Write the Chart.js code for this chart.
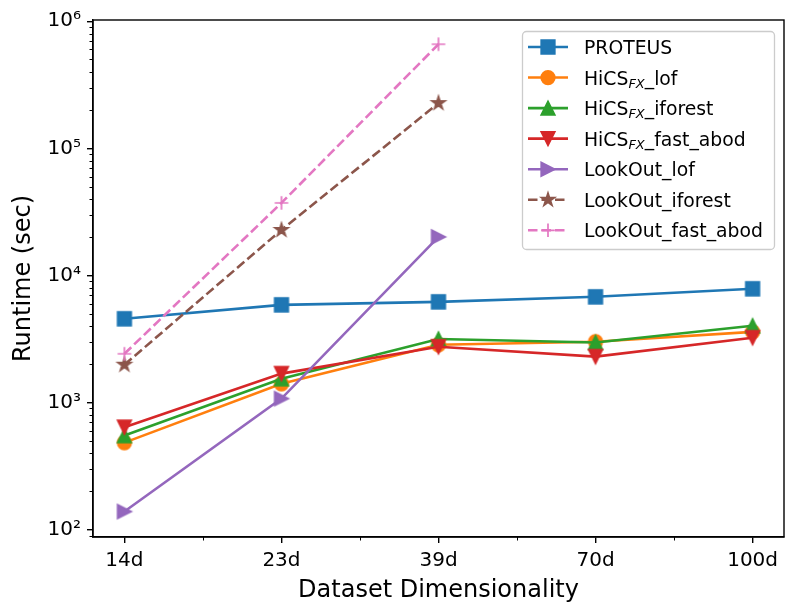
<!DOCTYPE html>
<html><head><meta charset="utf-8">
<script src="https://cdn.jsdelivr.net/npm/chart.js@4/dist/chart.umd.min.js"></script>
<style>html,body{margin:0;padding:0;background:#fff;}canvas{display:block;}</style>
</head><body>
<canvas id="c" width="785" height="603"></canvas>
<script>
// ---- data ----
const categories = ['14d', '23d', '39d', '70d', '100d'];
const seriesLabels = ['PROTEUS', 'HiCS_{FX}_lof', 'HiCS_{FX}_iforest', 'HiCS_{FX}_fast_abod', 'LookOut_lof', 'LookOut_iforest', 'LookOut_fast_abod'];
const proteus = [4560, 5870, 6200, 6790, 7850];
const hicsLof = [484, 1406, 2850, 3010, 3600];
const hicsIforest = [550, 1540, 3160, 2970, 4020];
const hicsFastAbod = [640, 1690, 2750, 2300, 3240];
const lookoutLof = [139, 1075, 20100, null, null];
const lookoutIforest = [1985, 22800, 227000, null, null];
const lookoutFastAbod = [2420, 37200, 659000, null, null];
const yTickValues = [100, 1000, 10000, 100000, 1000000];
const yTickLabels = ['10\u00B2', '10\u00B3', '10\u2074', '10\u2075', '10\u2076'];
const xTitle = 'Dataset Dimensionality';
const yTitle = 'Runtime (sec)';

// ---- styles ----
const FONT = "'DejaVu Sans', sans-serif";
const seriesValues = [proteus, hicsLof, hicsIforest, hicsFastAbod, lookoutLof, lookoutIforest, lookoutFastAbod];
const colors = ['#1f77b4', '#ff7f0e', '#2ca02c', '#d62728', '#9467bd', '#8c564b', '#e377c2'];
const markers = ['s', 'o', '^', 'v', '>', '*', '+'];
const dashes = [[], [], [], [], [], [9.5, 4], [9.5, 4]];

function drawMarker(ctx, shape, color, x, y) {
  const M = 13.6, h = M / 2;
  ctx.save();
  ctx.fillStyle = color; ctx.strokeStyle = color; ctx.lineWidth = 1.7; ctx.lineJoin = 'miter'; ctx.setLineDash([]);
  ctx.beginPath();
  switch (shape) {
    case 's': ctx.rect(x - h, y - h, M, M); break;
    case 'o': ctx.arc(x, y, h, 0, 2 * Math.PI); break;
    case '^': ctx.moveTo(x, y - h); ctx.lineTo(x - h, y + h); ctx.lineTo(x + h, y + h); ctx.closePath(); break;
    case 'v': ctx.moveTo(x, y + h); ctx.lineTo(x - h, y - h); ctx.lineTo(x + h, y - h); ctx.closePath(); break;
    case '>': ctx.moveTo(x + h, y); ctx.lineTo(x - h, y - h); ctx.lineTo(x - h, y + h); ctx.closePath(); break;
    case '*':
      for (let i = 0; i < 10; i++) {
        const r = i % 2 ? h * 0.381966 : h;
        const a = -Math.PI / 2 + i * Math.PI / 5;
        const px = x + r * Math.cos(a), py = y + r * Math.sin(a);
        if (i) ctx.lineTo(px, py); else ctx.moveTo(px, py);
      }
      ctx.closePath(); break;
    case '+':
      ctx.moveTo(x - h, y); ctx.lineTo(x + h, y); ctx.moveTo(x, y - h); ctx.lineTo(x, y + h);
      ctx.stroke(); ctx.restore(); return;
  }
  ctx.fill(); ctx.stroke(); ctx.restore();
}
function markerCanvas(shape, color) {
  const s = 24, c = document.createElement('canvas');
  c.width = s; c.height = s;
  drawMarker(c.getContext('2d'), shape, color, s / 2, s / 2);
  return c;
}

const datasets = seriesValues.map((vals, i) => ({
  label: seriesLabels[i],
  data: vals.map((v, k) => ({ x: k, y: v })).filter(p => p.y !== null),
  borderColor: colors[i],
  backgroundColor: colors[i],
  borderWidth: 2.6,
  borderDash: dashes[i],
  pointStyle: markerCanvas(markers[i], colors[i]),
  pointRadius: 8,
  pointHoverRadius: 8,
  tension: 0,
  order: seriesValues.length - i
}));

function parseLabel(s) {
  const parts = [];
  const re = /_\{([^}]*)\}/g;
  let last = 0, m;
  while ((m = re.exec(s))) {
    if (m.index > last) parts.push({ t: s.slice(last, m.index), sub: false });
    parts.push({ t: m[1], sub: true });
    last = re.lastIndex;
  }
  if (last < s.length) parts.push({ t: s.slice(last), sub: false });
  return parts;
}

const decorations = {
  id: 'decorations',
  afterDraw(chart) {
    const { ctx, chartArea: a, scales: { x, y } } = chart;
    ctx.save();
    ctx.strokeStyle = '#000'; ctx.lineWidth = 1.4;
    ctx.strokeRect(a.left, a.top, a.right - a.left, a.bottom - a.top);
    // minor ticks
    ctx.lineWidth = 1;
    ctx.beginPath();
    for (let e = 1; e <= 6; e++) for (let m = 2; m <= 9; m++) {
      const v = m * Math.pow(10, e);
      if (v < y.min || v > y.max) continue;
      const py = Math.round(y.getPixelForValue(v)) + 0.5;
      ctx.moveTo(a.left - 3.5, py); ctx.lineTo(a.left, py);
    }
    for (let i = 0; i < categories.length - 1; i++) {
      const px = Math.round(x.getPixelForValue(i + 0.5)) + 0.5;
      ctx.moveTo(px, a.bottom); ctx.lineTo(px, a.bottom + 3.5);
    }
    ctx.stroke();
    // legend
    const L = a.right - 262, T = a.top + 11, W = 252, H = 218;
    ctx.beginPath();
    ctx.roundRect(L + 0.5, T + 0.5, W, H, 4);
    ctx.fillStyle = 'rgba(255,255,255,0.8)'; ctx.fill();
    ctx.strokeStyle = '#cccccc'; ctx.lineWidth = 1.3; ctx.stroke();
    seriesLabels.forEach((lab, i) => {
      const cy = T + 16 + i * 30.55;
      ctx.save();
      ctx.strokeStyle = colors[i]; ctx.lineWidth = 2.6; ctx.setLineDash(dashes[i]);
      ctx.beginPath(); ctx.moveTo(L + 6, cy); ctx.lineTo(L + 46, cy); ctx.stroke();
      ctx.restore();
      drawMarker(ctx, markers[i], colors[i], L + 26, cy);
      let tx = L + 62;
      ctx.fillStyle = '#000'; ctx.textBaseline = 'alphabetic'; ctx.textAlign = 'left';
      parseLabel(lab).forEach(p => {
        if (p.sub) {
          ctx.font = 'italic 13px ' + FONT;
          ctx.fillText(p.t, tx, cy + 10);
        } else {
          ctx.font = '18.8px ' + FONT;
          ctx.fillText(p.t, tx, cy + 7);
        }
        tx += ctx.measureText(p.t).width;
      });
    });
    ctx.restore();
  }
};

Chart.defaults.font.family = FONT;
Chart.defaults.color = '#000';

new Chart(document.getElementById('c'), {
  type: 'line',
  data: { datasets },
  options: {
    responsive: false,
    animation: false,
    devicePixelRatio: 1,
    layout: { autoPadding: false, padding: { left: 0, right: 1, top: 20, bottom: 0 } },
    plugins: { legend: { display: false }, tooltip: { enabled: false } },
    scales: {
      x: {
        type: 'linear', min: -0.2, max: 4.2,
        afterBuildTicks: s => { s.ticks = categories.map((c, i) => ({ value: i })); },
        afterFit: s => { s.height = 66; s.paddingLeft = 0; s.paddingRight = 0; },
        ticks: { autoSkip: false, maxRotation: 0, font: { size: 20 }, color: '#000', padding: 6,
                 callback: v => categories[v] },
        grid: { drawOnChartArea: false, drawTicks: true, tickLength: 6, color: '#000', lineWidth: 1.4 },
        border: { display: true, color: '#000', width: 1.4 },
        title: { display: true, text: xTitle, font: { size: 24, lineHeight: 1.0 }, color: '#000', padding: { top: 0, bottom: 0 } }
      },
      y: {
        type: 'logarithmic', min: 87.6, max: 1.022e6,
        afterBuildTicks: s => { s.ticks = yTickValues.map(v => ({ value: v })); },
        afterFit: s => { s.width = 93; s.paddingTop = 0; s.paddingBottom = 0; },
        ticks: { autoSkip: false, font: { size: 20 }, color: '#000', padding: 6,
                 callback: (v, i) => yTickLabels[i] },
        grid: { drawOnChartArea: false, drawTicks: true, tickLength: 6, color: '#000', lineWidth: 1.4 },
        border: { display: true, color: '#000', width: 1.4 },
        title: { display: true, text: yTitle, font: { size: 24 }, color: '#000', padding: { top: 9, bottom: 0 } }
      }
    }
  },
  plugins: [decorations]
});
</script>
</body></html>
